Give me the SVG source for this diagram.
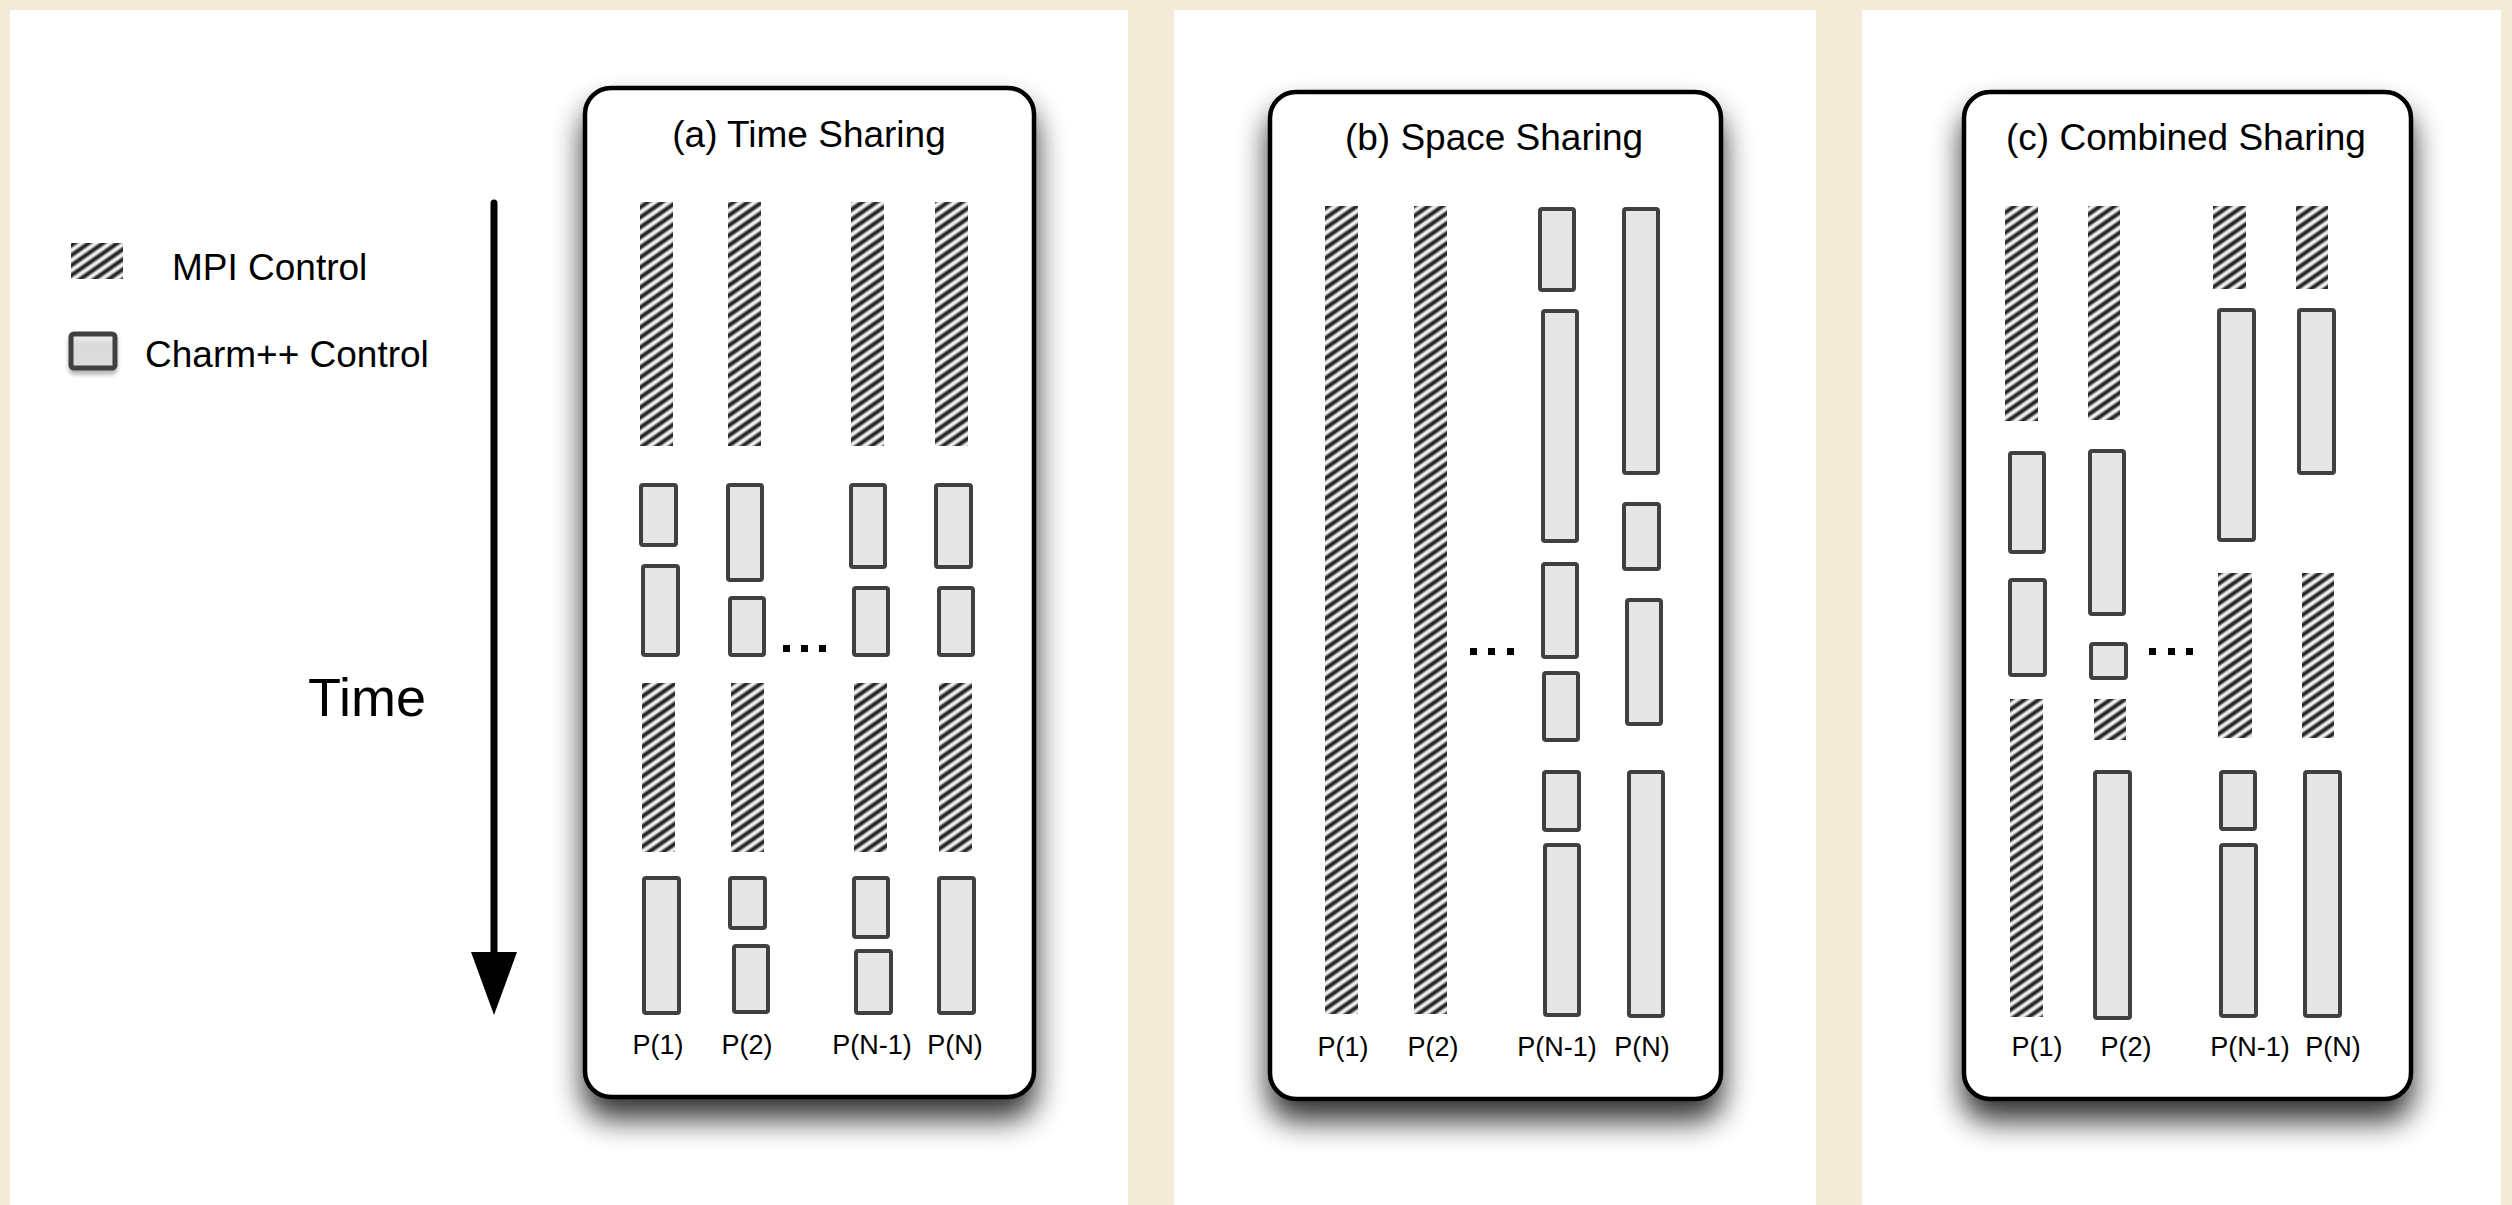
<svg xmlns="http://www.w3.org/2000/svg" width="2512" height="1205" viewBox="0 0 2512 1205">
<defs>
<linearGradient id="hg" x1="0" y1="0" x2="1" y2="0">
<stop offset="0" stop-color="#ffffff"/>
<stop offset="0.15" stop-color="#d8d8d8"/>
<stop offset="0.35" stop-color="#3a3a3a"/>
<stop offset="0.5" stop-color="#1e1e1e"/>
<stop offset="0.65" stop-color="#3a3a3a"/>
<stop offset="0.85" stop-color="#d8d8d8"/>
<stop offset="1" stop-color="#ffffff"/>
</linearGradient>
<pattern id="hatch" patternUnits="userSpaceOnUse" width="8.2" height="8.2" patternTransform="rotate(55)">
<rect width="8.2" height="8.2" fill="url(#hg)"/>
</pattern>
<linearGradient id="legfill" x1="0" y1="0" x2="0" y2="1">
<stop offset="0" stop-color="#f2f2f2"/>
<stop offset="0.3" stop-color="#dadada"/>
<stop offset="1" stop-color="#dcdcdc"/>
</linearGradient>
<filter id="shadow" x="-20%" y="-10%" width="140%" height="130%">
<feGaussianBlur in="SourceAlpha" stdDeviation="15"/>
<feOffset dy="20"/>
<feComponentTransfer><feFuncA type="linear" slope="0.8"/></feComponentTransfer>
<feMerge><feMergeNode/><feMergeNode in="SourceGraphic"/></feMerge>
</filter>
<filter id="small" x="-30%" y="-30%" width="160%" height="180%">
<feGaussianBlur in="SourceAlpha" stdDeviation="2"/>
<feOffset dy="4"/>
<feComponentTransfer><feFuncA type="linear" slope="0.3"/></feComponentTransfer>
<feMerge><feMergeNode/><feMergeNode in="SourceGraphic"/></feMerge>
</filter>
</defs>
<style>
text{font-family:"Liberation Sans",Arial,Helvetica,sans-serif;fill:#000}
.title{font-size:37px;text-anchor:middle}
.lab{font-size:27px;text-anchor:middle}
.leg{font-size:37px}
.box{fill:#ffffff;stroke:#000;stroke-width:4.5}
.mpi{fill:url(#hatch)}
.ch{fill:#e6e6e6;stroke:#404040;stroke-width:4}
.dot{fill:#000}
.panel{fill:#ffffff}
</style>
<rect width="2512" height="1205" fill="#f3ebd8"/>
<g id="panels">
<rect class="panel" x="10" y="10" width="1118" height="1195"/>
<rect class="panel" x="1174" y="10" width="642" height="1195"/>
<rect class="panel" x="1862" y="10" width="639" height="1195"/>
</g>
<g id="legend">
<rect class="mpi" x="71" y="243" width="52" height="36"/>
<text class="leg" x="172" y="280">MPI Control</text>
<rect x="71" y="334" width="44" height="34" rx="3" fill="url(#legfill)" stroke="#404040" stroke-width="5" filter="url(#small)"/>
<text class="leg" x="145" y="367">Charm++ Control</text>
</g>
<g id="connectors">
<line x1="494" y1="203" x2="494" y2="956" stroke="#000" stroke-width="7" stroke-linecap="round"/>
<polygon points="471,952 517,952 494,1015" fill="#000"/>
</g>
<g id="time-label">
<text x="308" y="716" font-size="54">Time</text>
</g>
<g id="panel-a">
<rect class="box" x="585" y="88" width="449" height="1009" rx="26" filter="url(#shadow)"/>
<text class="title" x="809" y="147">(a) Time Sharing</text>
<rect class="mpi" x="640" y="202" width="33" height="244"/>
<rect class="mpi" x="728" y="202" width="33" height="244"/>
<rect class="mpi" x="851" y="202" width="33" height="244"/>
<rect class="mpi" x="935" y="202" width="33" height="244"/>
<rect class="ch" x="641" y="485" width="35" height="60" rx="2"/>
<rect class="ch" x="643" y="566" width="35" height="89" rx="2"/>
<rect class="ch" x="728" y="485" width="34" height="95" rx="2"/>
<rect class="ch" x="730" y="598" width="34" height="57" rx="2"/>
<rect class="ch" x="851" y="485" width="34" height="82" rx="2"/>
<rect class="ch" x="854" y="588" width="34" height="67" rx="2"/>
<rect class="ch" x="936" y="485" width="35" height="82" rx="2"/>
<rect class="ch" x="939" y="588" width="34" height="67" rx="2"/>
<rect class="dot" x="783" y="645" width="7" height="7"/>
<rect class="dot" x="801" y="645" width="7" height="7"/>
<rect class="dot" x="819" y="645" width="7" height="7"/>
<rect class="mpi" x="642" y="683" width="33" height="169"/>
<rect class="mpi" x="731" y="683" width="33" height="169"/>
<rect class="mpi" x="854" y="683" width="33" height="169"/>
<rect class="mpi" x="939" y="683" width="33" height="169"/>
<rect class="ch" x="644" y="878" width="35" height="135" rx="2"/>
<rect class="ch" x="730" y="878" width="35" height="50" rx="2"/>
<rect class="ch" x="734" y="946" width="34" height="66" rx="2"/>
<rect class="ch" x="854" y="878" width="34" height="59" rx="2"/>
<rect class="ch" x="856" y="951" width="35" height="62" rx="2"/>
<rect class="ch" x="939" y="878" width="35" height="135" rx="2"/>
<text class="lab" x="658" y="1054">P(1)</text>
<text class="lab" x="747" y="1054">P(2)</text>
<text class="lab" x="872" y="1054">P(N-1)</text>
<text class="lab" x="955" y="1054">P(N)</text>
</g>
<g id="panel-b">
<rect class="box" x="1270" y="92" width="451" height="1007" rx="26" filter="url(#shadow)"/>
<text class="title" x="1494" y="150">(b) Space Sharing</text>
<rect class="mpi" x="1325" y="206" width="33" height="808"/>
<rect class="mpi" x="1414" y="206" width="33" height="808"/>
<rect class="ch" x="1540" y="209" width="34" height="81" rx="2"/>
<rect class="ch" x="1543" y="311" width="34" height="230" rx="2"/>
<rect class="ch" x="1543" y="564" width="34" height="93" rx="2"/>
<rect class="ch" x="1544" y="673" width="34" height="67" rx="2"/>
<rect class="ch" x="1544" y="772" width="35" height="58" rx="2"/>
<rect class="ch" x="1545" y="845" width="34" height="170" rx="2"/>
<rect class="ch" x="1624" y="209" width="34" height="264" rx="2"/>
<rect class="ch" x="1624" y="504" width="35" height="65" rx="2"/>
<rect class="ch" x="1627" y="600" width="34" height="124" rx="2"/>
<rect class="ch" x="1629" y="772" width="34" height="244" rx="2"/>
<rect class="dot" x="1470" y="648" width="7" height="7"/>
<rect class="dot" x="1488" y="648" width="7" height="7"/>
<rect class="dot" x="1507" y="648" width="7" height="7"/>
<text class="lab" x="1343" y="1056">P(1)</text>
<text class="lab" x="1433" y="1056">P(2)</text>
<text class="lab" x="1557" y="1056">P(N-1)</text>
<text class="lab" x="1642" y="1056">P(N)</text>
</g>
<g id="panel-c">
<rect class="box" x="1964" y="92" width="447" height="1007" rx="26" filter="url(#shadow)"/>
<text class="title" x="2186" y="150">(c) Combined Sharing</text>
<rect class="mpi" x="2005" y="206" width="33" height="215"/>
<rect class="ch" x="2010" y="453" width="34" height="99" rx="2"/>
<rect class="ch" x="2010" y="580" width="35" height="95" rx="2"/>
<rect class="mpi" x="2010" y="699" width="33" height="318"/>
<rect class="mpi" x="2088" y="206" width="32" height="214"/>
<rect class="ch" x="2090" y="451" width="34" height="163" rx="2"/>
<rect class="ch" x="2091" y="644" width="35" height="34" rx="2"/>
<rect class="mpi" x="2094" y="699" width="32" height="41"/>
<rect class="ch" x="2095" y="772" width="35" height="246" rx="2"/>
<rect class="mpi" x="2213" y="206" width="33" height="83"/>
<rect class="ch" x="2219" y="310" width="35" height="230" rx="2"/>
<rect class="mpi" x="2218" y="573" width="34" height="165"/>
<rect class="ch" x="2221" y="772" width="34" height="57" rx="2"/>
<rect class="ch" x="2221" y="845" width="35" height="171" rx="2"/>
<rect class="mpi" x="2296" y="206" width="32" height="83"/>
<rect class="ch" x="2299" y="310" width="35" height="163" rx="2"/>
<rect class="mpi" x="2302" y="573" width="32" height="165"/>
<rect class="ch" x="2305" y="772" width="35" height="244" rx="2"/>
<rect class="dot" x="2149" y="648" width="7" height="7"/>
<rect class="dot" x="2168" y="648" width="7" height="7"/>
<rect class="dot" x="2186" y="648" width="7" height="7"/>
<text class="lab" x="2037" y="1056">P(1)</text>
<text class="lab" x="2126" y="1056">P(2)</text>
<text class="lab" x="2250" y="1056">P(N-1)</text>
<text class="lab" x="2333" y="1056">P(N)</text>
</g>
</svg>
